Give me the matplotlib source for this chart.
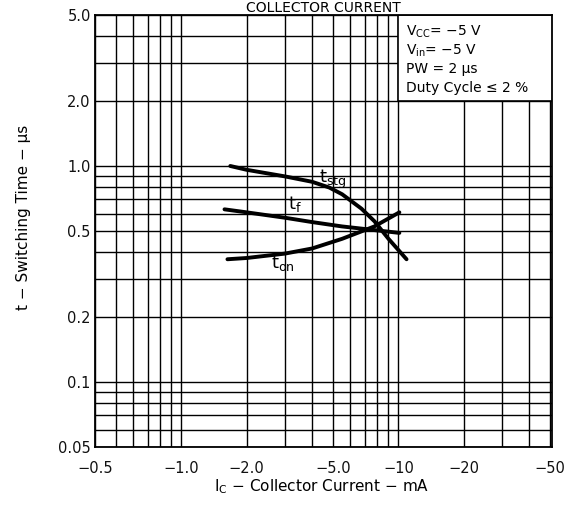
import matplotlib
matplotlib.use("Agg")
import matplotlib.pyplot as plt
from matplotlib.patches import Rectangle
from matplotlib.ticker import FixedLocator, NullFormatter

plt.rcParams["font.family"] = ["DejaVu Sans"]
plt.rcParams["mathtext.default"] = "regular"

# collector current magnitude (mA) and switching times (us)
ic_tstg = [1.68, 2.0, 3.0, 4.0, 4.8, 5.5, 6.75, 7.75, 9.0, 10.9]
t_stg = [1.0, 0.96, 0.895, 0.845, 0.795, 0.74, 0.635, 0.555, 0.46, 0.37]

ic_tf = [1.58, 2.0, 3.0, 4.0, 5.5, 7.75, 10.1]
t_f = [0.63, 0.61, 0.576, 0.55, 0.525, 0.505, 0.49]

ic_ton = [1.63, 2.0, 3.0, 4.0, 5.5, 7.75, 10.1]
t_on = [0.37, 0.375, 0.393, 0.415, 0.46, 0.525, 0.61]

x_ticks = [0.4, 1, 2, 5, 10, 20, 50]
x_labels = ["\u22120.5", "\u22121.0", "\u22122.0", "\u22125.0", "\u221210", "\u221220", "\u221250"]
x_grid = [0.5, 0.6, 0.7, 0.8, 0.9, 3, 4, 6, 7, 8, 9, 30, 40]

y_ticks = [0.05, 0.1, 0.2, 0.5, 1, 2, 5]
y_labels = ["0.05", "0.1", "0.2", "0.5", "1.0", "2.0", "5.0"]
y_grid = [0.06, 0.07, 0.08, 0.09, 0.3, 0.4, 0.6, 0.7, 0.8, 0.9, 3, 4]

conditions = ["V$_{CC}$= \u22125 V", "V$_{in}$= \u22125 V", "PW = 2 \u03bcs", "Duty Cycle \u2264 2 %"]

fig = plt.figure(figsize=(5.84, 5.09), dpi=100)
ax = fig.add_axes([0.1627, 0.1218, 0.7825, 0.8487])
ax.set_xscale("log")
ax.set_yscale("log")
ax.set_xlim(0.4, 51)
ax.set_ylim(0.05, 5)

ax.xaxis.set_major_locator(FixedLocator(x_ticks))
ax.xaxis.set_minor_locator(FixedLocator(x_grid))
ax.set_xticklabels(x_labels)
ax.xaxis.set_minor_formatter(NullFormatter())
ax.yaxis.set_major_locator(FixedLocator(y_ticks))
ax.yaxis.set_minor_locator(FixedLocator(y_grid))
ax.set_yticklabels(y_labels)
ax.yaxis.set_minor_formatter(NullFormatter())
ax.tick_params(which="both", length=0, labelsize=10.5, colors="#111111")
ax.tick_params(axis="x", pad=10)
ax.tick_params(axis="y", pad=3)

ax.set_axisbelow(True)
ax.grid(which="both", color="black", linewidth=1.0)
for s in ax.spines.values():
    s.set_linewidth(1.3)

# condition box in the upper right cell hides the grid behind it
ax.add_patch(Rectangle((10, 2), 60, 3, facecolor="white", edgecolor="black",
                       linewidth=1.2, zorder=1.5))
for i, line in enumerate(conditions):
    ax.text(0.68, 0.962 - i * 0.044, line, transform=ax.transAxes, fontsize=10,
            va="center", ha="left", zorder=4)

for xs, ys in [(ic_tstg, t_stg), (ic_tf, t_f), (ic_ton, t_on)]:
    ax.plot(xs, ys, color="black", linewidth=2.8, solid_capstyle="round", zorder=3)

ax.text(5.0, 0.87, "t$_{stg}$", fontsize=13, ha="center", va="center", zorder=4)
ax.text(3.35, 0.67, "t$_{f}$", fontsize=13, ha="center", va="center", zorder=4)
ax.text(2.95, 0.355, "t$_{on}$", fontsize=13, ha="center", va="center", zorder=4)

fig.text(0.554, 0.977, "COLLECTOR CURRENT", ha="center", va="baseline", fontsize=10)
fig.text(0.04, 0.572, "t \u2212 Switching Time \u2212 \u03bcs", rotation=90,
         ha="center", va="center", fontsize=11)
fig.text(0.55, 0.043, "I$_C$ \u2212 Collector Current \u2212 mA", ha="center",
         va="center", fontsize=11)

fig.savefig("out.png", dpi=100)
